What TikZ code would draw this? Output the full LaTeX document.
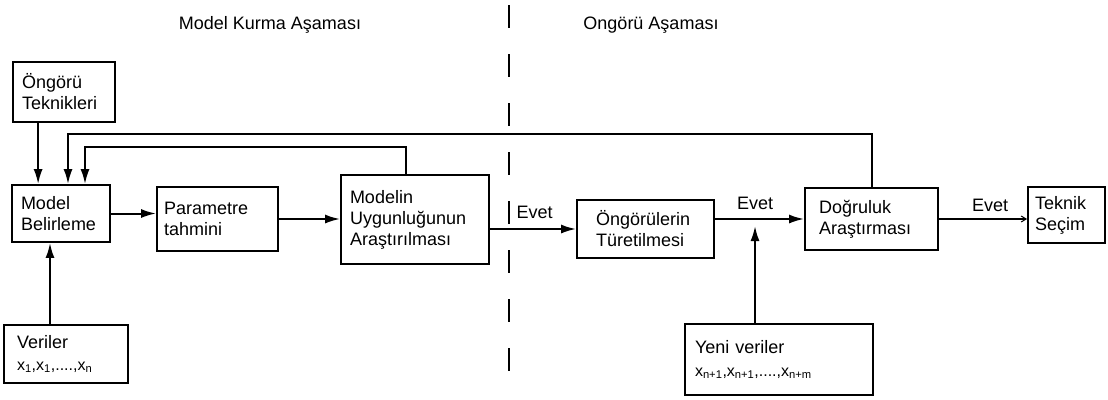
\documentclass[tikz,border=0pt]{standalone}
\usepackage{fontspec}
\setmainfont{Liberation Sans}
\usetikzlibrary{arrows.meta}
\begin{document}
\begin{tikzpicture}[x=1pt,y=-1pt,
  every node/.style={font=\fontsize{18}{21}\selectfont},
  box/.style={draw,line width=1.8pt,align=left,inner ysep=0pt},
  arr/.style={line width=2pt,-{Latex[length=15pt,width=9pt]}},
  thinarr/.style={line width=1.4pt,-{Straight Barb[length=5pt,width=6pt,line width=1pt]}},
  lbl/.style={inner sep=0pt}
]
\useasboundingbox (0,0) rectangle (1108,399);

% titles
\node[lbl] (t1) at (270,25) {Model Kurma Aşaması};
\node[lbl] (t2) at (651,25) {Ongörü Aşaması};

% divider
\coordinate (d1) at (509,5);
\coordinate (d2) at (509,396);
\draw[line width=2pt,dash pattern=on 23pt off 26pt] (d1) -- (d2);

% boxes
\node[box,minimum width=102pt,minimum height=60pt,text width=84pt,inner xsep=9pt] (ong) at (64,92) {Öngörü\\Teknikleri};
\node[box,minimum width=98pt,minimum height=57pt,text width=80pt,inner xsep=9pt] (mb) at (61,213.5) {Model\\Belirleme};
\node[box,minimum width=121pt,minimum height=64pt,text width=107pt,inner xsep=7pt] (pt) at (217.5,219) {Parametre\\tahmini};
\node[box,minimum width=148pt,minimum height=89pt,text width=130pt,inner xsep=9pt] (mu) at (415,219.5) {Modelin\\Uygunluğunun\\Araştırılması};
\node[box,minimum width=137pt,minimum height=58pt,text width=99pt,inner xsep=19pt] (ot) at (645.5,229) {Öngörülerin\\Türetilmesi};
\node[box,minimum width=133pt,minimum height=62pt,text width=105pt,inner xsep=14pt] (da) at (871.5,219) {Doğruluk\\Araştırması};
\node[box,minimum width=77pt,minimum height=56pt,text width=63pt,inner xsep=7pt] (ts) at (1066.5,215) {Teknik\\Seçim};
\node[box,minimum width=124pt,minimum height=58pt,text width=98pt,inner xsep=13pt] (ver) at (66,354) {Veriler\\[1pt]{\fontsize{16}{18}\selectfont x\textsubscript{1},x\textsubscript{1},....,x\textsubscript{n}}};
\node[box,minimum width=188pt,minimum height=71pt,text width=168pt,inner xsep=10pt] (yv) at (779,359.5) {Yeni veriler\\[2pt]{\fontsize{16}{18}\selectfont x\textsubscript{n+1},x\textsubscript{n+1},....,x\textsubscript{n+m}}};

% connectors
\draw[arr] ([xshift=26pt]ong.south west) -- ([xshift=26pt]ong.south west |- mb.north);

\coordinate (fb1) at (68,134);
\draw[arr] (da.north) |- (fb1) -- (fb1 |- mb.north);

\coordinate (fb2) at (85,147);
\draw[arr] ([xshift=-9pt]mu.north) |- (fb2) -- (fb2 |- mb.north);

\draw[arr] ([xshift=-16pt]ver.north) -- ([xshift=-16pt]ver.north |- mb.south);

\draw[arr] (mb.east) -- (mb.east -| pt.west);
\draw[arr] (pt.east) -- (pt.east -| mu.west);

\draw[arr] (mu.east |- ot.west) -- node[lbl,pos=0.52,above=9pt] (e1) {Evet} (ot.west);
\draw[arr] (ot.east |- da.west) -- node[lbl,pos=0.45,above=8pt] (e2) {Evet} (da.west);

\coordinate (jn) at (755,226);
\draw[arr] (yv.north -| jn) -- (jn);

\draw[thinarr] (da.east) -- node[lbl,pos=0.58,above=7pt] (e3) {Evet} (da.east -| ts.west);
\end{tikzpicture}
\end{document}
